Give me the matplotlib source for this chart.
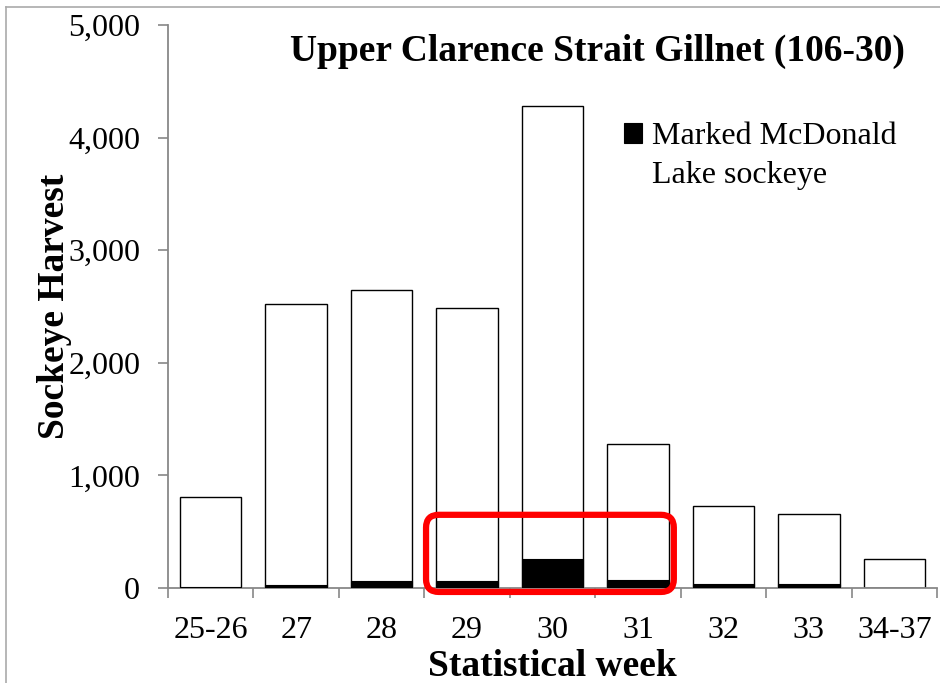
import matplotlib
matplotlib.use("Agg")
import matplotlib.pyplot as plt
from matplotlib.patches import FancyBboxPatch
from matplotlib.lines import Line2D
import numpy as np

# data
weeks = ['25-26', '27', '28', '29', '30', '31', '32', '33', '34-37']
total_harvest = [810, 2520, 2650, 2490, 4280, 1280, 730, 660, 255]
marked_mcdonald = [8, 27, 59, 59, 260, 68, 33, 33, 3]
y_ticks = [0, 1000, 2000, 3000, 4000, 5000]

plt.rcParams['font.family'] = ['Liberation Serif', 'DejaVu Serif']

fig = plt.figure(figsize=(9.4, 6.83), dpi=100)
ax = fig.add_axes([168 / 940, 1 - 588 / 683, (937 - 168) / 940, (588 - 25) / 683])

x = np.arange(len(weeks))
ax.bar(x, total_harvest, width=0.72, color='white', edgecolor='black', linewidth=1.0, zorder=2)
ax.bar(x, marked_mcdonald, width=0.72, color='black', edgecolor='black', linewidth=0.8,
       zorder=3, label='Marked McDonald')

ax.set_xlim(-0.5, len(weeks) - 0.5)
ax.set_ylim(0, 5000)
ax.set_yticks(y_ticks)
ax.set_yticklabels([f'{v:,}' for v in y_ticks])
ax.set_xticks(x)
ax.set_xticklabels(weeks)
# tick marks sit on category boundaries
ax.set_xticks(np.arange(len(weeks) + 1) - 0.5, minor=True)
ax.tick_params(axis='x', which='major', length=0, labelsize=23, pad=20)
ax.tick_params(axis='x', which='minor', length=7, color='#888888', width=1.2)
ax.tick_params(axis='y', length=7, color='#888888', width=1.2, labelsize=23, pad=13)

for s in ['top', 'right']:
    ax.spines[s].set_visible(False)
for s in ['left', 'bottom']:
    ax.spines[s].set_color('#888888')
    ax.spines[s].set_linewidth(1.3)

ax.set_xlabel('Statistical week', fontsize=27, fontweight='bold', labelpad=3)
ax.set_ylabel('Sockeye Harvest', fontsize=27, fontweight='bold', labelpad=-3)

ax.text(0.958, 0.985, 'Upper Clarence Strait Gillnet (106-30)', transform=ax.transAxes,
        ha='right', va='top', fontsize=27, fontweight='bold')

ax.legend(loc='upper left', bbox_to_anchor=(0.577, 0.85), frameon=False, fontsize=23,
          handlelength=0.55, handleheight=0.55, handletextpad=0.3, borderaxespad=0)
# second line of the legend label
ax.text(0.629, (588 - 183) / 563, 'Lake sockeye', transform=ax.transAxes,
        ha='left', va='baseline', fontsize=23)

# red highlight around weeks 29-31
px_x = 1 / 85.4
px_y = 5000 / 563
box = FancyBboxPatch((2.52, -35), 2.9, 685,
                     boxstyle='round,pad=0,rounding_size=0.15',
                     mutation_aspect=px_y / px_x,
                     fill=False, edgecolor='#ff0000', linewidth=4.5,
                     zorder=4, clip_on=False)
ax.add_patch(box)

# thin frame on top and left of the picture
fig.add_artist(Line2D([6 / 940, 1], [1 - 7 / 683, 1 - 7 / 683], color='#aaaaaa', lw=1.2))
fig.add_artist(Line2D([6 / 940, 6 / 940], [0, 1 - 7 / 683], color='#aaaaaa', lw=1.2))

fig.savefig('out.png', dpi=100)
